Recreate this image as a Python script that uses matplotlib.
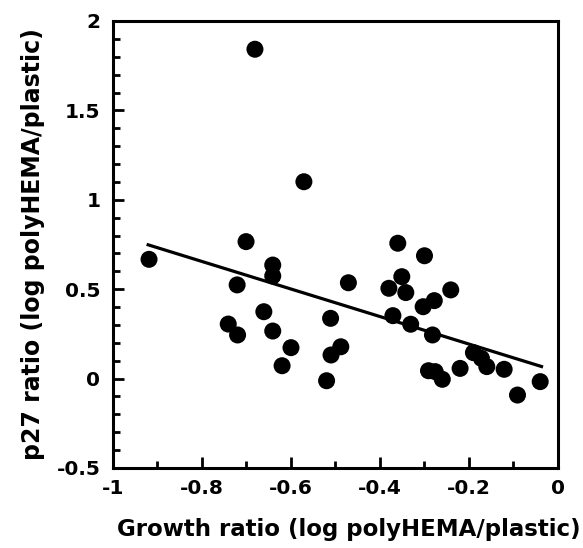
import matplotlib
matplotlib.use("Agg")
import matplotlib.pyplot as plt
from matplotlib.ticker import MultipleLocator

# точки
growth = [-0.919, -0.681, -0.571, -0.701, -0.641, -0.641, -0.721, -0.471,
          -0.661, -0.741, -0.720, -0.641, -0.600, -0.620, -0.511, -0.488,
          -0.510, -0.520, -0.360, -0.300, -0.351, -0.380, -0.342, -0.241,
          -0.278, -0.303, -0.371, -0.331, -0.282, -0.190, -0.172, -0.160,
          -0.220, -0.291, -0.276, -0.260, -0.121, -0.091, -0.040]
p27 = [0.667, 1.842, 1.101, 0.766, 0.635, 0.574, 0.524, 0.536,
       0.374, 0.305, 0.244, 0.266, 0.173, 0.072, 0.337, 0.178,
       0.132, -0.012, 0.757, 0.687, 0.570, 0.505, 0.481, 0.496,
       0.436, 0.402, 0.352, 0.304, 0.244, 0.145, 0.113, 0.067,
       0.057, 0.044, 0.039, -0.004, 0.052, -0.092, -0.017]

# линия регрессии
fit_x = [-0.921, -0.037]
fit_slope = -0.77
fit_intercept = 0.039

plt.rcParams['font.family'] = ['DejaVu Sans']

fig = plt.figure(figsize=(5.83, 5.48), dpi=100)
ax = fig.add_axes([0.1938, 0.146, 0.7633, 0.8157])

ax.scatter(growth, p27, s=150, c='black', edgecolors='none', zorder=3)
ax.plot(fit_x, [fit_slope * x + fit_intercept for x in fit_x], color='black', linewidth=2.3)

ax.set_xlim(-1, 0)
ax.set_ylim(-0.5, 2)
ax.xaxis.set_minor_locator(MultipleLocator(0.1))
ax.yaxis.set_minor_locator(MultipleLocator(0.1))
ax.set_xticks([-1, -0.8, -0.6, -0.4, -0.2, 0])
ax.set_xticklabels(['-1', '-0.8', '-0.6', '-0.4', '-0.2', '0'])
ax.set_yticks([-0.5, 0, 0.5, 1, 1.5, 2])
ax.set_yticklabels(['-0.5', '0', '0.5', '1', '1.5', '2'])

ax.tick_params(which='both', direction='in', top=False, right=False, width=2)
ax.tick_params(which='major', length=8, labelsize=14.5)
ax.tick_params(axis='x', which='major', pad=8)
ax.tick_params(axis='y', which='major', pad=9)
ax.tick_params(which='minor', length=5)
for lbl in ax.get_xticklabels() + ax.get_yticklabels():
    lbl.set_fontweight('bold')

for sp in ax.spines.values():
    sp.set_linewidth(2.2)

ax.set_xlabel("Growth ratio (log polyHEMA/plastic)", fontsize=16.5, fontweight='bold', labelpad=14)
ax.xaxis.label.set_x(0.53)
ax.set_ylabel("p27 ratio (log polyHEMA/plastic)", fontsize=17, fontweight='bold', labelpad=8)

fig.savefig("out.png", dpi=100)
